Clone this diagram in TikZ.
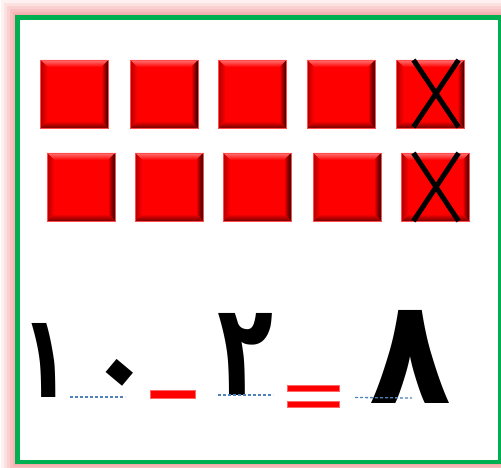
\documentclass[tikz,border=0pt]{standalone}
\usepackage{fontspec}
\newfontfamily\arabicfont[Script=Arabic]{DejaVu Sans}
\usetikzlibrary{calc}
\definecolor{sqred}{HTML}{FF0000}
\definecolor{framegreen}{HTML}{00B050}
\definecolor{glowpink}{HTML}{F4A0A0}
\definecolor{dashblue}{HTML}{4F81BD}
\tikzset{
  redsq/.style={minimum width=68pt, minimum height=68pt, inner sep=0pt, fill=sqred,
    draw=sqred!70!white, line width=0.4pt,
    path picture={
      \coordinate (nw) at (path picture bounding box.north west);
      \coordinate (ne) at (path picture bounding box.north east);
      \coordinate (sw) at (path picture bounding box.south west);
      \coordinate (se) at (path picture bounding box.south east);
      \shade[top color=sqred!55!white, bottom color=sqred]
        (nw) -- (ne) -- ([shift={(-7pt,-7pt)}]ne) -- ([shift={(7pt,-7pt)}]nw) -- cycle;
      \shade[left color=sqred, right color=black!85!sqred]
        (ne) -- (se) -- ([shift={(-7pt,7pt)}]se) -- ([shift={(-7pt,-7pt)}]ne) -- cycle;
      \shade[top color=sqred, bottom color=sqred!45!black]
        (sw) -- (se) -- ([shift={(-7pt,7pt)}]se) -- ([shift={(7pt,7pt)}]sw) -- cycle;
      \shade[left color=sqred!70!black, right color=sqred]
        (nw) -- (sw) -- ([shift={(7pt,7pt)}]sw) -- ([shift={(7pt,-7pt)}]nw) -- cycle;
    }},
  cross/.style={line width=5pt, black},
  digit/.style={inner sep=0pt, outer sep=0pt},
  dashline/.style={dashblue, line width=1.3pt, dash pattern=on 3pt off 2pt},
  redbar/.style={fill=sqred, draw=sqred!60!white, line width=0.5pt},
}
\begin{document}
\begin{tikzpicture}[x=1pt,y=-1pt]
\useasboundingbox (0,0) rectangle (501,468);
\clip (0,0) rectangle (501,468);
% glow
\foreach \w/\o in {34/0.15,28/0.2,22/0.25,16/0.3,10/0.4,6/0.5}{
  \draw[glowpink, line width=\w pt, opacity=\o] (17.5,17.5) rectangle (500.5,462);
}
\fill[white] (17.5,17.5) rectangle (500.5,462);
\draw[framegreen, line width=4.5pt] (17.5,17.5) rectangle (500.5,462);
% squares row 1
\node[redsq] (a1) at (74.5,94) {};
\node[redsq] (a2) at (164,94) {};
\node[redsq] (a3) at (252.5,94) {};
\node[redsq] (a4) at (341,94) {};
\node[redsq] (a5) at (430.5,94) {};
% squares row 2
\node[redsq] (b1) at (81,187) {};
\node[redsq] (b2) at (169,187) {};
\node[redsq] (b3) at (257,187) {};
\node[redsq] (b4) at (347,187) {};
\node[redsq] (b5) at (435.5,187) {};
% crosses
\draw[cross] ([shift={(-17pt,34pt)}]a5.center) -- ([shift={(28pt,-33pt)}]a5.center);
\draw[cross] ([shift={(28pt,34pt)}]a5.center) -- ([shift={(-17pt,-33pt)}]a5.center);
\draw[cross] ([shift={(-22pt,34pt)}]b5.center) -- ([shift={(23pt,-34pt)}]b5.center);
\draw[cross] ([shift={(23pt,34pt)}]b5.center) -- ([shift={(-22pt,-34pt)}]b5.center);
% digits
\node[digit] (d1) at (46,360) {\resizebox{50pt}{74pt}{\arabicfont\bfseries ١}};
\node[digit, rotate=50] (d0) at (128.7,380.7) {\resizebox{60pt}{46pt}{\arabicfont\bfseries ٠}};
\node[digit] (d2) at (246,354) {\resizebox{56pt}{82pt}{\arabicfont\bfseries ٢}};
\node[digit] (d8) at (411,356.5) {\resizebox{82pt}{93pt}{\arabicfont\bfseries ٨}};
% dashed guides
\coordinate (l1a) at (70,397); \coordinate (l1b) at (125,397);
\coordinate (l2a) at (218,395); \coordinate (l2b) at (273,395);
\coordinate (l3a) at (355,397.5); \coordinate (l3b) at (412,398);
\draw[dashline] (l1a) -- (l1b);
\draw[dashline] (l2a) -- (l2b);
\draw[dashline] (l3a) -- (l3b);
% minus and equals
\node[redbar, minimum width=45pt, minimum height=8pt, inner sep=0pt] (minus) at (172.5,394) {};
\node[redbar, minimum width=52pt, minimum height=6pt, inner sep=0pt] (eqa) at (313,388) {};
\node[redbar, minimum width=52pt, minimum height=6pt, inner sep=0pt] (eqb) at (313,404) {};
\end{tikzpicture}
\end{document}
